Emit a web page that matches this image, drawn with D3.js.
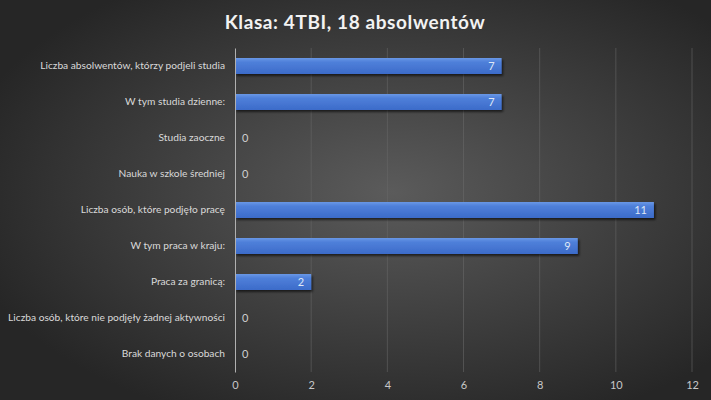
<!DOCTYPE html>
<html><head><meta charset="utf-8">
<script src="https://cdn.jsdelivr.net/npm/d3@7/dist/d3.min.js"></script>
<style>html,body{margin:0;padding:0;background:#333;}svg{display:block;}</style>
</head><body>
<script>
const categories = [
  "Liczba absolwentów, którzy podjeli studia",
  "W tym studia dzienne:",
  "Studia zaoczne",
  "Nauka w szkole średniej",
  "Liczba osób, które podjęło pracę",
  "W tym praca w kraju:",
  "Praca za granicą:",
  "Liczba osób, które nie podjęły żadnej aktywności",
  "Brak danych o osobach"
];
const values = [7, 7, 0, 0, 11, 9, 2, 0, 0];
const xTicks = [0, 2, 4, 6, 8, 10, 12];
const title = "Klasa: 4TBI, 18 absolwentów";

const W = 711, H = 400;
const svg = d3.select("body").append("svg").attr("width", W).attr("height", H);
const defs = svg.append("defs");
const bg = defs.append("radialGradient").attr("id","bg").attr("cx","55%").attr("cy","48%").attr("r","62%");
bg.append("stop").attr("offset","0%").attr("stop-color","#5b5b5b");
bg.append("stop").attr("offset","100%").attr("stop-color","#262626");
const bg2 = defs.append("linearGradient").attr("id","bar").attr("x1",0).attr("y1",0).attr("x2",0).attr("y2",1);
bg2.append("stop").attr("offset","0%").attr("stop-color","#6a98e6");
bg2.append("stop").attr("offset","25%").attr("stop-color","#4f80da");
bg2.append("stop").attr("offset","100%").attr("stop-color","#3c6bc9");
const f = defs.append("filter").attr("id","sh").attr("x","-5%").attr("y","-30%").attr("width","115%").attr("height","190%");
f.append("feDropShadow").attr("dx",1.5).attr("dy",2).attr("stdDeviation",1.2).attr("flood-color","#000").attr("flood-opacity",0.6);

svg.append("rect").attr("width",W).attr("height",H).attr("fill","url(#bg)");

const x = d3.scaleLinear().domain([0, 12]).range([235, 692]);
const y = d3.scaleBand().domain(categories).range([48, 372]).paddingInner(0.556).paddingOuter(0.278);

svg.append("text").attr("x", 355).attr("y", 29).attr("text-anchor","middle")
  .attr("font-family","Lato, 'Open Sans', sans-serif").attr("font-weight","bold").attr("font-size",19)
  .attr("fill","#f2f2f2").attr("letter-spacing",0.6).text(title);

// gridlines
svg.append("g").selectAll("line").data(xTicks.slice(1)).join("line")
  .attr("x1", d=>x(d)).attr("x2", d=>x(d)).attr("y1", 48).attr("y2", 372)
  .attr("stroke","#6a6a6a").attr("stroke-opacity",0.55).attr("stroke-width",1);

// x axis labels
const xa = svg.append("g").attr("transform","translate(0,372)")
  .call(d3.axisBottom(x).tickValues(xTicks).tickSize(0).tickPadding(9));
xa.select(".domain").remove();
xa.selectAll("text").attr("font-family","Lato, sans-serif").attr("font-size",11).attr("fill","#c8c8c8");

// bars
svg.append("g").selectAll("rect").data(values).join("rect")
  .attr("x", x(0)).attr("y", (d,i)=>y(categories[i]))
  .attr("width", d=>x(d)-x(0)).attr("height", y.bandwidth())
  .attr("fill","url(#bar)").attr("filter","url(#sh)");

// y axis
const ya = svg.append("g").attr("transform",`translate(${x(0)},0)`)
  .call(d3.axisLeft(y).tickSize(0).tickPadding(10));
ya.select(".domain").attr("stroke","#b0b0b0").attr("stroke-width",1);
ya.selectAll("text").attr("font-family","Lato, sans-serif").attr("font-size",10.2).attr("fill","#d9d9d9");

// data labels
svg.append("g").selectAll("text").data(values).join("text")
  .attr("x", d => d > 0 ? x(d) - 7 : x(0) + 7)
  .attr("y", (d,i)=>y(categories[i]) + y.bandwidth()/2)
  .attr("dy","0.36em")
  .attr("text-anchor", d => d > 0 ? "end" : "start")
  .attr("font-family","Lato, sans-serif").attr("font-size",11)
  .attr("fill", d => d > 0 ? "#dfe8f7" : "#cfcfcf")
  .text(d=>d);
</script>
</body></html>
